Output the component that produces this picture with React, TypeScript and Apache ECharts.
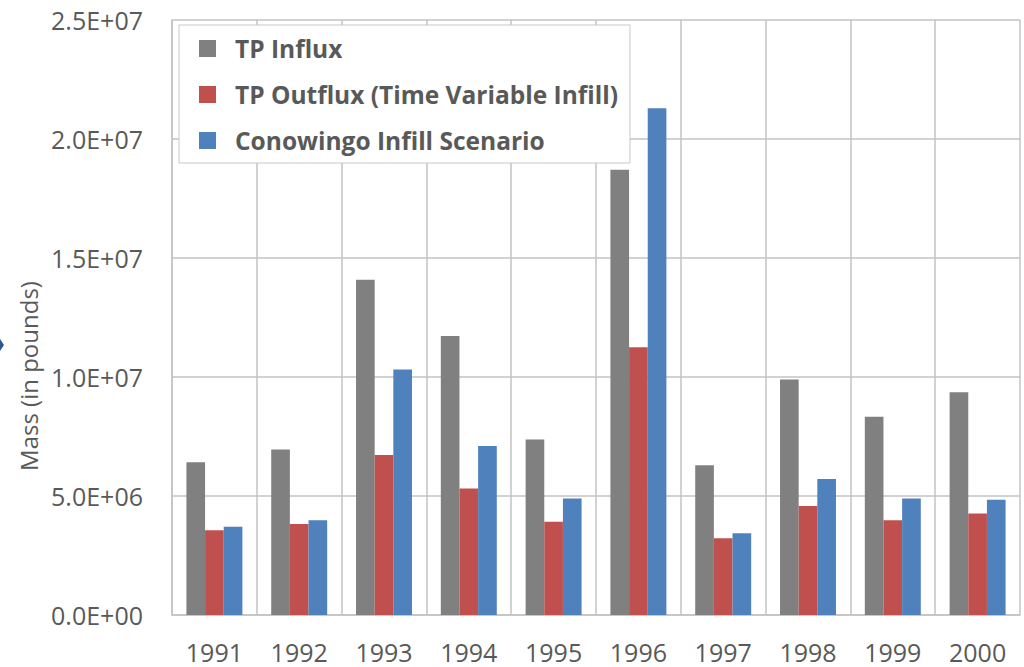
import React, { useEffect, useRef } from 'react';
import * as echarts from 'echarts';

const years = ['1991', '1992', '1993', '1994', '1995', '1996', '1997', '1998', '1999', '2000'];
const seriesNames = ['TP Influx', 'TP Outflux (Time Variable Infill)', 'Conowingo Infill Scenario'];
const tpInflux = [6.42e6, 6.95e6, 14.09e6, 11.72e6, 7.37e6, 18.71e6, 6.29e6, 9.9e6, 8.33e6, 9.36e6];
const tpOutflux = [3.56e6, 3.82e6, 6.72e6, 5.32e6, 3.92e6, 11.25e6, 3.22e6, 4.58e6, 3.98e6, 4.26e6];
const infillScenario = [3.71e6, 3.98e6, 10.32e6, 7.1e6, 4.9e6, 21.29e6, 3.43e6, 5.71e6, 4.9e6, 4.84e6];
const yAxisTitle = 'Mass (in pounds)';

const FONT = "'Open Sans', 'Noto Sans', sans-serif";
const TEXT = '#595959';
const GRID = '#C3C3C3';

function sci(v: number): string {
  if (v === 0) return '0.0E+00';
  const e = Math.floor(Math.log10(v) + 1e-9);
  const m = v / Math.pow(10, e);
  return m.toFixed(1) + 'E+' + String(e).padStart(2, '0');
}

export default function App() {
  const ref = useRef<HTMLDivElement>(null);
  useEffect(() => {
    if (!ref.current) return;
    const chart = echarts.init(ref.current, undefined, { renderer: 'svg' });
    const colors = ['#808080', '#C0504D', '#4F81BD'];
    const data = [tpInflux, tpOutflux, infillScenario];
    chart.setOption({
      animation: false,
      backgroundColor: '#ffffff',
      textStyle: { fontFamily: FONT },
      grid: { left: 172, top: 20, right: 4, bottom: 52, containLabel: false },
      legend: {
        orient: 'vertical',
        left: 179,
        top: 25,
        itemWidth: 17,
        itemHeight: 17,
        itemGap: 21,
        icon: 'rect',
        padding: [11, 12, 10, 20],
        backgroundColor: '#ffffff',
        borderColor: '#C8C8C8',
        borderWidth: 1,
        borderRadius: 0,
        textStyle: {
          fontFamily: FONT,
          fontSize: 24.5,
          fontWeight: 'bold',
          color: TEXT,
          lineHeight: 24,
          padding: [0, 0, 0, 14],
        },
        data: seriesNames,
      },
      xAxis: {
        type: 'category',
        data: years,
        boundaryGap: true,
        axisLine: { show: true, lineStyle: { color: GRID, width: 1.5 } },
        axisTick: { show: false },
        splitLine: { show: true, interval: 0, lineStyle: { color: GRID, width: 1.5 } },
        axisLabel: { fontFamily: FONT, fontSize: 25, lineHeight: 25, color: TEXT, margin: 24, interval: 0 },
      },
      yAxis: {
        type: 'value',
        min: 0,
        max: 2.5e7,
        interval: 5e6,
        axisLine: { show: true, lineStyle: { color: GRID, width: 1.5 } },
        axisTick: { show: false },
        splitLine: { show: true, lineStyle: { color: GRID, width: 1.5 } },
        axisLabel: { fontFamily: FONT, fontSize: 25, color: TEXT, margin: 29, formatter: (v: number) => sci(v) },
      },
      graphic: [
        {
          type: 'text',
          x: 28,
          y: 376,
          rotation: Math.PI / 2,
          style: {
            text: yAxisTitle,
            fontFamily: FONT,
            fontSize: 24,
            fill: TEXT,
            align: 'center',
            verticalAlign: 'middle',
          },
        },
        {
          type: 'polygon',
          shape: { points: [[0, 339], [4, 345], [0, 351]] },
          style: { fill: '#2F5597' },
        },
      ],
      series: seriesNames.map((name, i) => ({
        name,
        type: 'bar',
        data: data[i],
        barWidth: '22%',
        barGap: '0%',
        itemStyle: { color: colors[i] },
      })),
    });
    return () => chart.dispose();
  }, []);
  return (
    <div
      ref={ref}
      style={{ position: 'fixed', left: 0, top: 0, width: 1024, height: 667 }}
    />
  );
}
